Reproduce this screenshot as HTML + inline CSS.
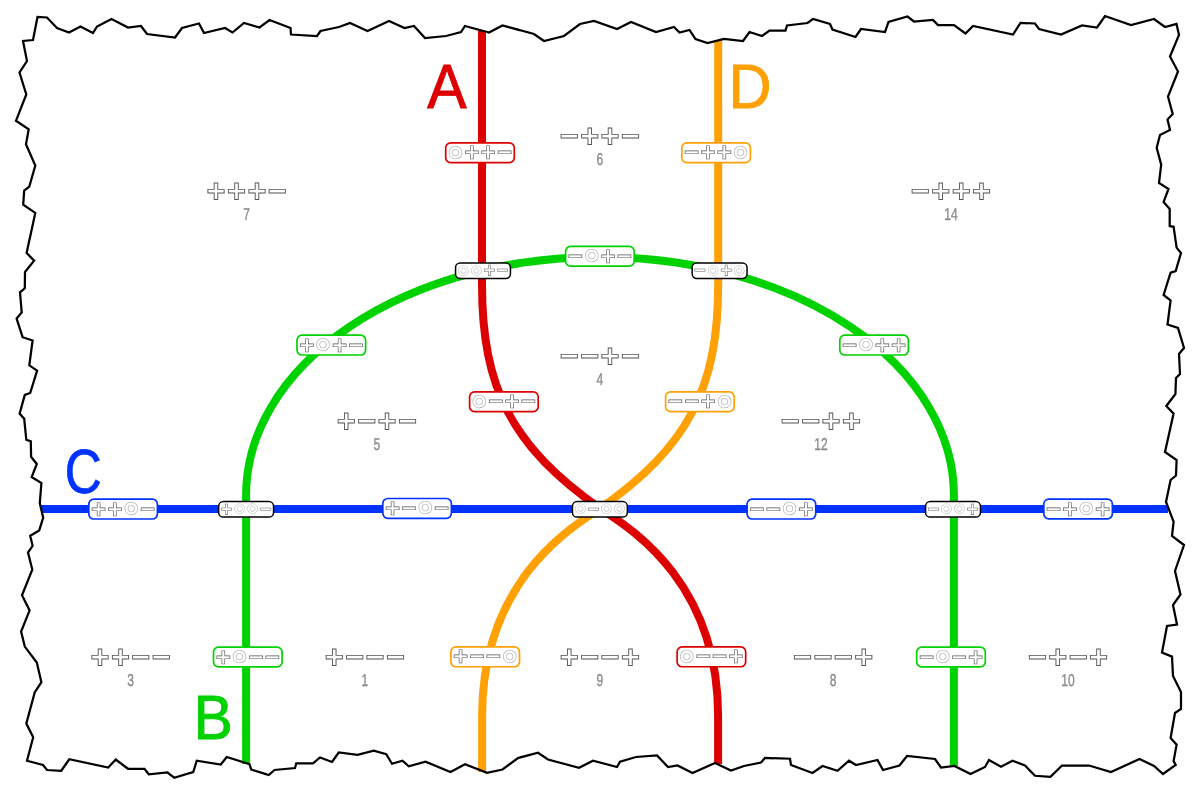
<!DOCTYPE html>
<html lang="en"><head><meta charset="utf-8"><title>Pseudoline arrangement</title>
<style>
html,body{margin:0;padding:0;background:#fff}
svg{display:block}
text{font-family:"Liberation Sans",sans-serif;text-anchor:middle;text-rendering:geometricPrecision}
.p{font-weight:bold;fill:#fff;stroke-linejoin:miter}
.o{font-weight:bold;fill:#fff;stroke-linejoin:round}
.n{font-size:17.2px;fill:#8a8a8a;stroke:#8a8a8a;stroke-width:.35}
.L{font-size:62.5px;stroke-width:.9}
</style></head><body>
<svg width="1200" height="795" viewBox="0 0 1200 795">
<rect width="1200" height="795" fill="#fff"/>
<g style="will-change:transform">
<path d="M41 509 L1168 509" fill="none" stroke="#0033ff" stroke-width="8"/>
<path d="M246.1 764 L246.1 495.05 A353.9 238.1 0 0 1 953.9 495.05 L953.9 766" fill="none" stroke="#00d200" stroke-width="8"/>
<path d="M718.2 40 L718.2 283.9 C718.2 388.7 688.2 446.5 600.1 508.4 C578.5 523.5 482.1 575.6 482.1 716 L482.1 772" fill="none" stroke="#ffa004" stroke-width="8"/>
<path d="M482 31 L482 283.9 C482 388.7 512 446.5 600.1 508.4 C621.7 523.5 718.1 575.6 718.1 716 L718.1 764" fill="none" stroke="#dd0000" stroke-width="8"/>
<path d="M33 40 L37.5 17 L47 17.5 L57 28 L69 32.5 L80.5 26.5 L93 33 L97 26.5 L111.5 19 L128 27.5 L141 26 L147 34 L175 37.5 L182 28 L199 23.5 L204 33 L225 28 L232.5 32.5 L244 23 L259.5 27.5 L269.5 20 L290.5 28 L291 34.5 L317 36 L320.5 31 L339 27 L350 23 L367.5 31 L389 21 L404.5 28 L414 26 L425 38 L446 36 L461 32 L465 26 L489 32.5 L502.5 25.5 L534 34 L544 41 L564 36 L580 24 L594 21 L617 29 L631 22 L656 32 L674 27 L679.5 32.5 L689.5 30 L695.5 39 L707.5 43 L724 39 L743 41 L749.5 32 L762 36 L769.5 30.5 L785.5 30.5 L787 25.5 L807.5 23 L813 19 L830 24 L832.5 29.5 L855.5 37 L861 29 L885 32 L888.5 22 L907.5 16.5 L914 21.5 L933 20 L938 25 L954 25 L965.5 33.5 L973 26 L1013 34.5 L1020.5 23 L1035 23.5 L1039 29 L1061 34.5 L1082 25.5 L1097 27.5 L1105 16 L1131 25 L1154 19 L1165 27 L1176.5 24 L1179 35 L1170 56.5 L1178 71.5 L1168 96.5 L1172.7 114 L1167.5 119.6 L1170 130 L1160 135 L1156.7 147.7 L1161.2 164.6 L1159 183 L1168.5 189 L1163.6 202 L1169.7 209 L1169.7 226 L1173.6 226.8 L1176.6 247.6 L1181 253 L1175.7 271 L1170.6 272.6 L1163.6 295 L1170.6 300.4 L1167.5 324.5 L1178 328 L1184 348 L1179 354 L1180 374 L1176 378 L1175.4 394 L1166.3 406 L1173.6 413.6 L1165 452 L1176.6 460 L1176 475.5 L1170.6 480 L1166 502 L1173.6 521.7 L1172 536 L1184 545 L1175 571 L1180.5 594.4 L1173 605 L1177 624.6 L1167 626 L1162 652.6 L1172 656.6 L1173 676 L1181 692 L1181 709 L1175 713 L1170.6 738 L1176.6 744.7 L1173.6 761 L1175.7 765 L1163 774 L1154 766 L1139.5 759 L1111 772 L1089 765.5 L1062 765.5 L1050.5 776.75 L1035 775.75 L1025 765.5 L1012.5 760.75 L1001 766.75 L989 760 L985 767 L970.5 774 L954.5 766 L941 767.5 L935 759 L907 756 L899.5 765.5 L883 770 L877.5 760 L856 765 L849 760.75 L837.5 770.75 L822.5 766 L812.5 773 L791 765 L790 758.75 L765 758 L761 762.5 L744 766 L731 770.5 L715 763 L692.5 773 L677.5 765.5 L668 767 L657 755.5 L636 757 L620 761.75 L617 767 L593 760.75 L579 767.75 L548 759.5 L538 752.75 L518 758 L502.5 769.5 L487 772.75 L465 764.25 L450.5 772 L425.5 761.75 L408.75 766.25 L402.5 760.75 L392 763.75 L386.25 754.25 L373.75 750.75 L357.5 754.75 L338.75 752.5 L332 762 L320 757.5 L313 763.25 L296.25 763.25 L295 768 L274.5 770 L268.75 775 L251.25 769.5 L249.5 764.25 L226.75 757 L220.75 764.5 L196.75 760.75 L193.25 772 L174.25 777.75 L167.5 772.5 L148.75 774.25 L144.5 768.75 L128 768.75 L115.75 759.5 L108.25 767.5 L69.25 759.25 L61.25 770.75 L47 770 L43 765 L27 760.75 L33.2 737.2 L26.3 723.6 L34.7 692.5 L41.4 682.2 L36.8 662.6 L24.8 646.6 L21.1 631.5 L29.6 610.4 L22 595.3 L32.3 569.6 L28 552.5 L32.6 545.8 L30.2 535.8 L39.2 530.4 L43.2 517.7 L39.8 503.2 L41.4 483 L31.7 477 L36.8 464 L31.1 456.8 L30.8 441.4 L26.3 439.8 L24.2 418.7 L19.6 413.6 L24.8 394.9 L30.2 393 L37.1 370.7 L29.3 365.3 L32.6 340.5 L22.6 337.2 L16.6 318.5 L21.7 312.5 L20 292.3 L24.8 288.3 L25 272 L34.1 260.6 L26.6 253 L35.3 212.9 L23.2 204.7 L24.2 190.5 L29.3 186.6 L35.3 165.5 L26 144.3 L28.7 129.2 L16 120.8 L26.3 94.5 L19.5 72.5 L27 61 L23 41Z" fill="none" stroke="#000" stroke-width="2.25" stroke-linejoin="miter"/>
<text class="L" transform="translate(447 108.1) scale(0.943 1)" fill="#dd0000" stroke="#dd0000">A</text>
<text class="L" transform="translate(750 108.2) scale(0.954 1)" fill="#ffa004" stroke="#ffa004">D</text>
<text class="L" transform="translate(213.15 738.9) scale(0.935 1)" fill="#00d200" stroke="#00d200">B</text>
<text class="L" transform="translate(83.2 493.15) scale(0.817 1)" fill="#0033ff" stroke="#0033ff">C</text>
<text class="p" x="216.10" y="201.81" font-size="32.5" stroke="#555" stroke-width="0.9">+</text><text class="p" x="236.50" y="201.81" font-size="32.5" stroke="#555" stroke-width="0.9">+</text><text class="p" x="256.90" y="201.81" font-size="32.5" stroke="#555" stroke-width="0.9">+</text><text class="p" x="277.30" y="201.81" font-size="32.5" stroke="#555" stroke-width="0.9">−</text><text class="n" transform="translate(246.70 219.60) scale(0.70 1)">7</text>
<text class="p" x="569.30" y="146.81" font-size="32.5" stroke="#555" stroke-width="0.9">−</text><text class="p" x="589.70" y="146.81" font-size="32.5" stroke="#555" stroke-width="0.9">+</text><text class="p" x="610.10" y="146.81" font-size="32.5" stroke="#555" stroke-width="0.9">+</text><text class="p" x="630.50" y="146.81" font-size="32.5" stroke="#555" stroke-width="0.9">−</text><text class="n" transform="translate(599.90 164.60) scale(0.70 1)">6</text>
<text class="p" x="920.35" y="201.81" font-size="32.5" stroke="#555" stroke-width="0.9">−</text><text class="p" x="940.75" y="201.81" font-size="32.5" stroke="#555" stroke-width="0.9">+</text><text class="p" x="961.15" y="201.81" font-size="32.5" stroke="#555" stroke-width="0.9">+</text><text class="p" x="981.55" y="201.81" font-size="32.5" stroke="#555" stroke-width="0.9">+</text><text class="n" transform="translate(950.95 219.60) scale(0.70 1)">14</text>
<text class="p" x="569.30" y="366.81" font-size="32.5" stroke="#555" stroke-width="0.9">−</text><text class="p" x="589.70" y="366.81" font-size="32.5" stroke="#555" stroke-width="0.9">−</text><text class="p" x="610.10" y="366.81" font-size="32.5" stroke="#555" stroke-width="0.9">+</text><text class="p" x="630.50" y="366.81" font-size="32.5" stroke="#555" stroke-width="0.9">−</text><text class="n" transform="translate(599.90 384.60) scale(0.70 1)">4</text>
<text class="p" x="346.30" y="431.81" font-size="32.5" stroke="#555" stroke-width="0.9">+</text><text class="p" x="366.70" y="431.81" font-size="32.5" stroke="#555" stroke-width="0.9">−</text><text class="p" x="387.10" y="431.81" font-size="32.5" stroke="#555" stroke-width="0.9">+</text><text class="p" x="407.50" y="431.81" font-size="32.5" stroke="#555" stroke-width="0.9">−</text><text class="n" transform="translate(376.90 449.60) scale(0.70 1)">5</text>
<text class="p" x="790.30" y="431.81" font-size="32.5" stroke="#555" stroke-width="0.9">−</text><text class="p" x="810.70" y="431.81" font-size="32.5" stroke="#555" stroke-width="0.9">−</text><text class="p" x="831.10" y="431.81" font-size="32.5" stroke="#555" stroke-width="0.9">+</text><text class="p" x="851.50" y="431.81" font-size="32.5" stroke="#555" stroke-width="0.9">+</text><text class="n" transform="translate(820.90 449.60) scale(0.70 1)">12</text>
<text class="p" x="100.00" y="667.81" font-size="32.5" stroke="#555" stroke-width="0.9">+</text><text class="p" x="120.40" y="667.81" font-size="32.5" stroke="#555" stroke-width="0.9">+</text><text class="p" x="140.80" y="667.81" font-size="32.5" stroke="#555" stroke-width="0.9">−</text><text class="p" x="161.20" y="667.81" font-size="32.5" stroke="#555" stroke-width="0.9">−</text><text class="n" transform="translate(130.60 685.60) scale(0.70 1)">3</text>
<text class="p" x="334.30" y="667.81" font-size="32.5" stroke="#555" stroke-width="0.9">+</text><text class="p" x="354.70" y="667.81" font-size="32.5" stroke="#555" stroke-width="0.9">−</text><text class="p" x="375.10" y="667.81" font-size="32.5" stroke="#555" stroke-width="0.9">−</text><text class="p" x="395.50" y="667.81" font-size="32.5" stroke="#555" stroke-width="0.9">−</text><text class="n" transform="translate(364.90 685.60) scale(0.70 1)">1</text>
<text class="p" x="569.30" y="667.81" font-size="32.5" stroke="#555" stroke-width="0.9">+</text><text class="p" x="589.70" y="667.81" font-size="32.5" stroke="#555" stroke-width="0.9">−</text><text class="p" x="610.10" y="667.81" font-size="32.5" stroke="#555" stroke-width="0.9">−</text><text class="p" x="630.50" y="667.81" font-size="32.5" stroke="#555" stroke-width="0.9">+</text><text class="n" transform="translate(599.90 685.60) scale(0.70 1)">9</text>
<text class="p" x="802.50" y="667.81" font-size="32.5" stroke="#555" stroke-width="0.9">−</text><text class="p" x="822.90" y="667.81" font-size="32.5" stroke="#555" stroke-width="0.9">−</text><text class="p" x="843.30" y="667.81" font-size="32.5" stroke="#555" stroke-width="0.9">−</text><text class="p" x="863.70" y="667.81" font-size="32.5" stroke="#555" stroke-width="0.9">+</text><text class="n" transform="translate(833.10 685.60) scale(0.70 1)">8</text>
<text class="p" x="1037.40" y="667.81" font-size="32.5" stroke="#555" stroke-width="0.9">−</text><text class="p" x="1057.80" y="667.81" font-size="32.5" stroke="#555" stroke-width="0.9">+</text><text class="p" x="1078.20" y="667.81" font-size="32.5" stroke="#555" stroke-width="0.9">−</text><text class="p" x="1098.60" y="667.81" font-size="32.5" stroke="#555" stroke-width="0.9">+</text><text class="n" transform="translate(1068.00 685.60) scale(0.70 1)">10</text>
<rect x="445.70" y="142.85" width="68.6" height="19.8" rx="5" fill="#fff" stroke="#dd0000" stroke-width="1.7"/><text class="o" x="455.48" y="174.84" font-size="41.4" stroke="#a8a8a8" stroke-width="0.6">°</text><text class="p" x="471.82" y="161.30" font-size="26" stroke="#555" stroke-width="0.65">+</text><text class="p" x="488.18" y="161.30" font-size="26" stroke="#555" stroke-width="0.65">+</text><text class="p" x="504.52" y="161.30" font-size="26" stroke="#555" stroke-width="0.65">−</text>
<rect x="469.60" y="391.85" width="68.6" height="19.8" rx="5" fill="#fff" stroke="#dd0000" stroke-width="1.7"/><text class="o" x="479.38" y="423.84" font-size="41.4" stroke="#a8a8a8" stroke-width="0.6">°</text><text class="p" x="495.72" y="410.29" font-size="26" stroke="#555" stroke-width="0.65">−</text><text class="p" x="512.07" y="410.29" font-size="26" stroke="#555" stroke-width="0.65">+</text><text class="p" x="528.42" y="410.29" font-size="26" stroke="#555" stroke-width="0.65">−</text>
<rect x="677.10" y="646.95" width="68.6" height="19.8" rx="5" fill="#fff" stroke="#dd0000" stroke-width="1.7"/><text class="o" x="686.88" y="678.94" font-size="41.4" stroke="#a8a8a8" stroke-width="0.6">°</text><text class="p" x="703.23" y="665.39" font-size="26" stroke="#555" stroke-width="0.65">−</text><text class="p" x="719.57" y="665.39" font-size="26" stroke="#555" stroke-width="0.65">−</text><text class="p" x="735.92" y="665.39" font-size="26" stroke="#555" stroke-width="0.65">+</text>
<rect x="681.80" y="142.85" width="68.6" height="19.8" rx="5" fill="#fff" stroke="#ffa004" stroke-width="1.7"/><text class="p" x="691.58" y="161.30" font-size="26" stroke="#555" stroke-width="0.65">−</text><text class="p" x="707.93" y="161.30" font-size="26" stroke="#555" stroke-width="0.65">+</text><text class="p" x="724.27" y="161.30" font-size="26" stroke="#555" stroke-width="0.65">+</text><text class="o" x="740.62" y="174.84" font-size="41.4" stroke="#a8a8a8" stroke-width="0.6">°</text>
<rect x="665.60" y="391.85" width="68.6" height="19.8" rx="5" fill="#fff" stroke="#ffa004" stroke-width="1.7"/><text class="p" x="675.38" y="410.29" font-size="26" stroke="#555" stroke-width="0.65">−</text><text class="p" x="691.73" y="410.29" font-size="26" stroke="#555" stroke-width="0.65">−</text><text class="p" x="708.07" y="410.29" font-size="26" stroke="#555" stroke-width="0.65">+</text><text class="o" x="724.42" y="423.84" font-size="41.4" stroke="#a8a8a8" stroke-width="0.6">°</text>
<rect x="450.90" y="646.95" width="68.6" height="19.8" rx="5" fill="#fff" stroke="#ffa004" stroke-width="1.7"/><text class="p" x="460.68" y="665.39" font-size="26" stroke="#555" stroke-width="0.65">+</text><text class="p" x="477.02" y="665.39" font-size="26" stroke="#555" stroke-width="0.65">−</text><text class="p" x="493.38" y="665.39" font-size="26" stroke="#555" stroke-width="0.65">−</text><text class="o" x="509.72" y="678.94" font-size="41.4" stroke="#a8a8a8" stroke-width="0.6">°</text>
<rect x="565.60" y="246.35" width="68.6" height="19.8" rx="5" fill="#fff" stroke="#00d200" stroke-width="1.7"/><text class="p" x="575.38" y="264.79" font-size="26" stroke="#555" stroke-width="0.65">−</text><text class="o" x="591.73" y="278.34" font-size="41.4" stroke="#a8a8a8" stroke-width="0.6">°</text><text class="p" x="608.07" y="264.79" font-size="26" stroke="#555" stroke-width="0.65">+</text><text class="p" x="624.42" y="264.79" font-size="26" stroke="#555" stroke-width="0.65">−</text>
<rect x="297.00" y="335.20" width="68.6" height="19.8" rx="5" fill="#fff" stroke="#00d200" stroke-width="1.7"/><text class="p" x="306.78" y="353.64" font-size="26" stroke="#555" stroke-width="0.65">+</text><text class="o" x="323.12" y="367.19" font-size="41.4" stroke="#a8a8a8" stroke-width="0.6">°</text><text class="p" x="339.48" y="353.64" font-size="26" stroke="#555" stroke-width="0.65">+</text><text class="p" x="355.82" y="353.64" font-size="26" stroke="#555" stroke-width="0.65">−</text>
<rect x="839.80" y="335.20" width="68.6" height="19.8" rx="5" fill="#fff" stroke="#00d200" stroke-width="1.7"/><text class="p" x="849.58" y="353.64" font-size="26" stroke="#555" stroke-width="0.65">−</text><text class="o" x="865.93" y="367.19" font-size="41.4" stroke="#a8a8a8" stroke-width="0.6">°</text><text class="p" x="882.27" y="353.64" font-size="26" stroke="#555" stroke-width="0.65">+</text><text class="p" x="898.62" y="353.64" font-size="26" stroke="#555" stroke-width="0.65">+</text>
<rect x="213.50" y="647.10" width="68.6" height="19.8" rx="5" fill="#fff" stroke="#00d200" stroke-width="1.7"/><text class="p" x="223.28" y="665.54" font-size="26" stroke="#555" stroke-width="0.65">+</text><text class="o" x="239.62" y="679.09" font-size="41.4" stroke="#a8a8a8" stroke-width="0.6">°</text><text class="p" x="255.98" y="665.54" font-size="26" stroke="#555" stroke-width="0.65">−</text><text class="p" x="272.32" y="665.54" font-size="26" stroke="#555" stroke-width="0.65">−</text>
<rect x="916.70" y="647.10" width="68.6" height="19.8" rx="5" fill="#fff" stroke="#00d200" stroke-width="1.7"/><text class="p" x="926.48" y="665.54" font-size="26" stroke="#555" stroke-width="0.65">−</text><text class="o" x="942.83" y="679.09" font-size="41.4" stroke="#a8a8a8" stroke-width="0.6">°</text><text class="p" x="959.17" y="665.54" font-size="26" stroke="#555" stroke-width="0.65">−</text><text class="p" x="975.52" y="665.54" font-size="26" stroke="#555" stroke-width="0.65">+</text>
<rect x="88.80" y="499.20" width="68.6" height="19.8" rx="5" fill="#fff" stroke="#0033ff" stroke-width="1.7"/><text class="p" x="98.57" y="517.64" font-size="26" stroke="#555" stroke-width="0.65">+</text><text class="p" x="114.92" y="517.64" font-size="26" stroke="#555" stroke-width="0.65">+</text><text class="o" x="131.28" y="531.19" font-size="41.4" stroke="#a8a8a8" stroke-width="0.6">°</text><text class="p" x="147.62" y="517.64" font-size="26" stroke="#555" stroke-width="0.65">−</text>
<rect x="382.80" y="498.50" width="68.6" height="19.8" rx="5" fill="#fff" stroke="#0033ff" stroke-width="1.7"/><text class="p" x="392.58" y="516.94" font-size="26" stroke="#555" stroke-width="0.65">+</text><text class="p" x="408.93" y="516.94" font-size="26" stroke="#555" stroke-width="0.65">−</text><text class="o" x="425.28" y="530.49" font-size="41.4" stroke="#a8a8a8" stroke-width="0.6">°</text><text class="p" x="441.62" y="516.94" font-size="26" stroke="#555" stroke-width="0.65">−</text>
<rect x="747.10" y="499.20" width="68.6" height="19.8" rx="5" fill="#fff" stroke="#0033ff" stroke-width="1.7"/><text class="p" x="756.88" y="517.64" font-size="26" stroke="#555" stroke-width="0.65">−</text><text class="p" x="773.23" y="517.64" font-size="26" stroke="#555" stroke-width="0.65">−</text><text class="o" x="789.57" y="531.19" font-size="41.4" stroke="#a8a8a8" stroke-width="0.6">°</text><text class="p" x="805.92" y="517.64" font-size="26" stroke="#555" stroke-width="0.65">+</text>
<rect x="1043.80" y="499.05" width="68.6" height="19.8" rx="5" fill="#fff" stroke="#0033ff" stroke-width="1.7"/><text class="p" x="1053.57" y="517.50" font-size="26" stroke="#555" stroke-width="0.65">−</text><text class="p" x="1069.92" y="517.50" font-size="26" stroke="#555" stroke-width="0.65">+</text><text class="o" x="1086.27" y="531.04" font-size="41.4" stroke="#a8a8a8" stroke-width="0.6">°</text><text class="p" x="1102.62" y="517.50" font-size="26" stroke="#555" stroke-width="0.65">+</text>
<rect x="455.55" y="263.00" width="54.9" height="15.5" rx="4.7" fill="#fff" stroke="#000" stroke-width="1.5"/><text class="o" x="463.43" y="287.74" font-size="32" stroke="#b4b4b4" stroke-width="0.5">°</text><text class="o" x="476.48" y="287.74" font-size="32" stroke="#b4b4b4" stroke-width="0.5">°</text><text class="p" x="489.52" y="277.47" font-size="20.5" stroke="#666" stroke-width="0.55">+</text><text class="p" x="502.57" y="277.47" font-size="20.5" stroke="#666" stroke-width="0.55">−</text>
<rect x="692.15" y="263.00" width="54.9" height="15.5" rx="4.7" fill="#fff" stroke="#000" stroke-width="1.5"/><text class="p" x="700.02" y="277.47" font-size="20.5" stroke="#666" stroke-width="0.55">−</text><text class="o" x="713.08" y="287.74" font-size="32" stroke="#b4b4b4" stroke-width="0.5">°</text><text class="p" x="726.12" y="277.47" font-size="20.5" stroke="#666" stroke-width="0.55">+</text><text class="o" x="739.18" y="287.74" font-size="32" stroke="#b4b4b4" stroke-width="0.5">°</text>
<rect x="218.65" y="501.60" width="54.9" height="15.5" rx="4.7" fill="#fff" stroke="#000" stroke-width="1.5"/><text class="p" x="226.52" y="516.07" font-size="20.5" stroke="#666" stroke-width="0.55">+</text><text class="o" x="239.57" y="526.34" font-size="32" stroke="#b4b4b4" stroke-width="0.5">°</text><text class="o" x="252.62" y="526.34" font-size="32" stroke="#b4b4b4" stroke-width="0.5">°</text><text class="p" x="265.68" y="516.07" font-size="20.5" stroke="#666" stroke-width="0.55">−</text>
<rect x="572.45" y="501.60" width="54.9" height="15.5" rx="4.7" fill="#fff" stroke="#000" stroke-width="1.5"/><text class="o" x="580.32" y="526.34" font-size="32" stroke="#b4b4b4" stroke-width="0.5">°</text><text class="p" x="593.38" y="516.07" font-size="20.5" stroke="#666" stroke-width="0.55">−</text><text class="o" x="606.42" y="526.34" font-size="32" stroke="#b4b4b4" stroke-width="0.5">°</text><text class="o" x="619.48" y="526.34" font-size="32" stroke="#b4b4b4" stroke-width="0.5">°</text>
<rect x="925.55" y="501.60" width="54.9" height="15.5" rx="4.7" fill="#fff" stroke="#000" stroke-width="1.5"/><text class="p" x="933.42" y="516.07" font-size="20.5" stroke="#666" stroke-width="0.55">−</text><text class="o" x="946.48" y="526.34" font-size="32" stroke="#b4b4b4" stroke-width="0.5">°</text><text class="o" x="959.52" y="526.34" font-size="32" stroke="#b4b4b4" stroke-width="0.5">°</text><text class="p" x="972.58" y="516.07" font-size="20.5" stroke="#666" stroke-width="0.55">+</text>
</g>
</svg>
</body></html>
